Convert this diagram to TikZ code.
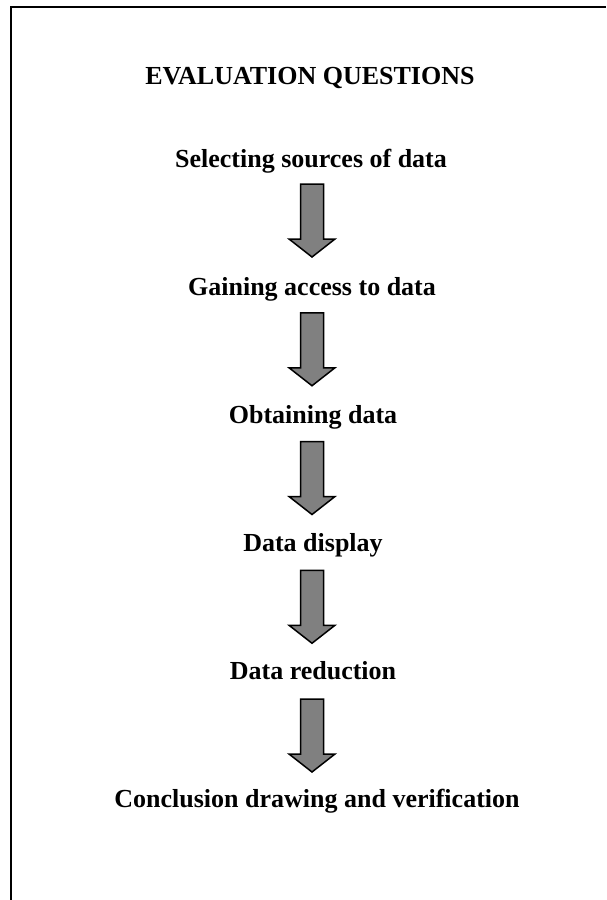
\documentclass[tikz,border=0pt]{standalone}
\usepackage{fontspec}
\setmainfont{Liberation Serif}
\tikzset{
  lbl/.style={font=\fontsize{26}{30}\selectfont\bfseries, inner sep=0pt, anchor=base},
  dnarrow/.style={draw=black, line width=1.5pt, fill=black!50, line join=miter}
}
\newcommand{\downarrowshape}[2]{% #1 x center, #2 y top
  \draw[dnarrow] (#1-11.5,#2) -- (#1+11.5,#2) -- (#1+11.5,#2+55) -- (#1+23,#2+55) -- (#1,#2+73) -- (#1-23,#2+55) -- (#1-11.5,#2+55) -- cycle;
}
\begin{document}
\begin{tikzpicture}[x=1pt,y=-1pt]
\useasboundingbox (0,0) rectangle (606,900);
\draw[line width=1.8pt] (11,900) -- (11,7) -- (606,7);
\node[lbl] (t0) at (310,84) {EVALUATION QUESTIONS};
\node[lbl] (t1) at (311,167) {Selecting sources of data};
\node[lbl] (t2) at (312,295) {Gaining access to data};
\node[lbl] (t3) at (313,423) {Obtaining data};
\node[lbl] (t4) at (313,551) {Data display};
\node[lbl] (t5) at (313,679) {Data reduction};
\node[lbl] (t6) at (317,807) {Conclusion drawing and verification};
\downarrowshape{312}{184}
\downarrowshape{312}{312.75}
\downarrowshape{312}{441.5}
\downarrowshape{312}{570.25}
\downarrowshape{312}{699}
\end{tikzpicture}
\end{document}
